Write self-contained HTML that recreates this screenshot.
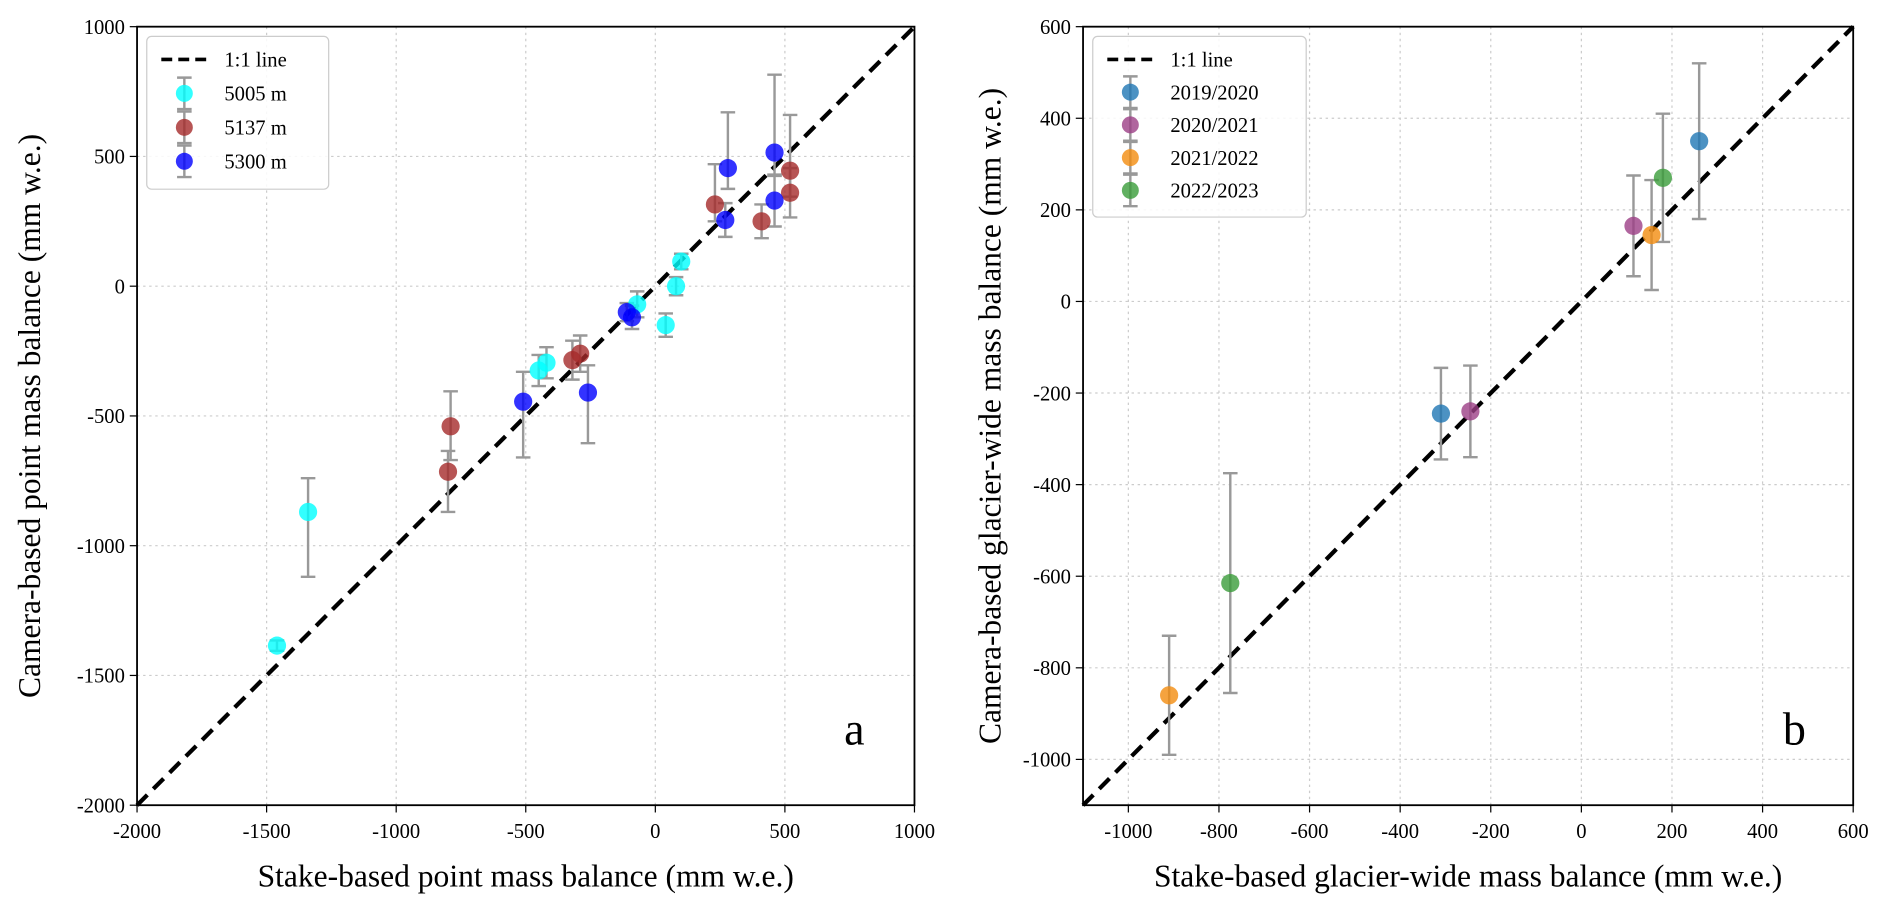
<!DOCTYPE html>
<html><head><meta charset="utf-8"><style>
body{margin:0;background:#fff}
svg{display:block;font-family:"Liberation Serif",serif}
</style></head><body>
<svg id="c" width="1892" height="901" viewBox="0 0 1560 743" preserveAspectRatio="none"></svg>
<script>
// Panel a data
const aGroups=["5005 m","5137 m","5300 m"];
const aColors=["#00ffff","#a52a2a","#0000ff"];
const aX=[[-1460,-1340,-450,-420,-70,40,80,100],[-800,-790,-320,-290,230,410,520,520],[-510,-260,-110,-90,270,280,460,460]];
const aY=[[-1385,-870,-325,-295,-70,-150,0,95],[-715,-540,-285,-260,315,250,445,360],[-445,-410,-100,-120,255,455,515,330]];
const aLo=[[20,250,60,60,50,45,35,30],[155,130,75,70,65,65,100,95],[215,195,35,45,65,80,90,100]];
const aHi=[[20,130,60,60,50,45,35,30],[80,135,75,70,155,65,215,95],[115,105,35,45,65,215,300,100]];
const aTicks=[-2000,-1500,-1000,-500,0,500,1000];
// Panel b data
const bGroups=["2019/2020","2020/2021","2021/2022","2022/2023"];
const bColors=["#1f77b4","#9c3f86","#f28c0f","#3a9c3a"];
const bX=[[-310,260],[-245,115],[-910,155],[-775,180]];
const bY=[[-245,350],[-240,165],[-860,145],[-615,270]];
const bErr=[[100,170],[100,110],[130,120],[240,140]];
const bTicksX=[-1000,-800,-600,-400,-200,0,200,400,600];
const bTicksY=[-1000,-800,-600,-400,-200,0,200,400,600];

const svg=document.getElementById('c');
const NS='http://www.w3.org/2000/svg';
function mk(t,attrs,parent){const e=document.createElementNS(NS,t);for(const k in attrs)e.setAttribute(k,attrs[k]);(parent||svg).appendChild(e);return e;}

function panel(o){
  const g=mk('g',{});
  
  
  const sx=v=>o.x0+(v-o.xmin)/(o.xmax-o.xmin)*(o.x1-o.x0);
  const sy=v=>o.y1-(v-o.ymin)/(o.ymax-o.ymin)*(o.y1-o.y0);
  o.tx.forEach(t=>{if(t>o.xmin&&t<o.xmax){const l=mk('line',{x1:sx(t),x2:sx(t),y1:o.y0,y2:o.y1,stroke:'#ccc','stroke-dasharray':'2,3','stroke-width':1},g);}});
  o.ty.forEach(t=>{if(t>o.ymin&&t<o.ymax){const l=mk('line',{y1:sy(t),y2:sy(t),x1:o.x0,x2:o.x1,stroke:'#ccc','stroke-dasharray':'2,3','stroke-width':1},g);}});
  const d=mk('line',{x1:sx(o.lmin),y1:sy(o.lmin),x2:sx(o.lmax),y2:sy(o.lmax),stroke:'#000','stroke-width':3.5,'stroke-dasharray':'12,7'},g);
  
  o.series.forEach((s,i)=>{
    s.x.forEach((xv,j)=>{
      const cx=sx(xv),yt=sy(s.y[j]+s.hi[j]),yb=sy(s.y[j]-s.lo[j]);
      const e=mk('path',{d:`M${cx},${yt}V${yb}M${cx-6},${yt}H${cx+6}M${cx-6},${yb}H${cx+6}`,stroke:'#999','stroke-width':2,fill:'none'},g);
      
    });
  });
  o.series.forEach((s,i)=>{
    s.x.forEach((xv,j)=>{
      const c=mk('circle',{cx:sx(xv),cy:sy(s.y[j]),r:7.5,fill:s.color,'fill-opacity':0.8},g);
      
    });
  });
  const f=mk('rect',{x:o.x0,y:o.y0,width:o.x1-o.x0,height:o.y1-o.y0,fill:'none',stroke:'#000','stroke-width':1.5},g);
  
  o.tx.forEach(t=>{const x=sx(t);mk('line',{x1:x,x2:x,y1:o.y1,y2:o.y1+6,stroke:'#000'},g);
    const tt=mk('text',{x:x,y:o.y1+27,'text-anchor':'middle','font-size':17},g);tt.textContent=t;
    });
  o.ty.forEach(t=>{const y=sy(t);mk('line',{x1:o.x0-6,x2:o.x0,y1:y,y2:y,stroke:'#000'},g);
    const tt=mk('text',{x:o.x0-10,y:y+6,'text-anchor':'end','font-size':17},g);tt.textContent=t;
    });
  const xl=mk('text',{x:(o.x0+o.x1)/2,y:o.y1+67,'text-anchor':'middle','font-size':26},g);xl.textContent=o.xlabel;
  
  const yx=o.x0-o.ylOff, yy=(o.y0+o.y1)/2;
  const yl=mk('text',{x:yx,y:yy,'text-anchor':'middle','font-size':26,transform:`rotate(-90 ${yx} ${yy})`},g);yl.textContent=o.ylabel;
  
  const pl=mk('text',{x:o.x1-58,y:o.y1-50,'font-size':38},g);pl.textContent=o.letter;
  
  // legend
  const n=o.series.length, lh=o.lh;
  const lg=mk('g',{},g);
  mk('rect',{x:o.x0+8,y:o.y0+8,width:o.legW,height:14+lh*(n+1),rx:4,fill:'#fff','fill-opacity':0.85,stroke:'#ccc'},lg);
  let ly=o.y0+27;
  mk('line',{x1:o.x0+20,x2:o.x0+58,y1:ly,y2:ly,stroke:'#000','stroke-width':3,'stroke-dasharray':'9,5'},lg);
  const lt=mk('text',{x:o.x0+72,y:ly+6,'font-size':17},lg);lt.textContent='1:1 line';
  o.series.forEach(s=>{ly+=lh;const cx=o.x0+39;
    const e=mk('g',{},lg);
    mk('path',{d:`M${cx},${ly-13}V${ly+13}M${cx-6},${ly-13}H${cx+6}M${cx-6},${ly+13}H${cx+6}`,stroke:'#999','stroke-width':2,fill:'none'},e);
    mk('circle',{cx:cx,cy:ly,r:7,fill:s.color,'fill-opacity':0.8},e);
    const t=mk('text',{x:o.x0+72,y:ly+6,'font-size':17},e);t.textContent=s.name;});
}
panel({name:'panel-a',x0:113,x1:754,y0:22,y1:664,xmin:-2000,xmax:1000,ymin:-2000,ymax:1000,lmin:-2000,lmax:1000,
  tx:aTicks,ty:aTicks,xlabel:'Stake-based point mass balance (mm w.e.)',ylabel:'Camera-based point mass balance (mm w.e.)',ylOff:80,letter:'a',legW:150,lh:28,
  series:aGroups.map((n,i)=>({name:n,color:aColors[i],x:aX[i],y:aY[i],lo:aLo[i],hi:aHi[i]}))});
panel({name:'panel-b',x0:893,x1:1528,y0:22,y1:664,xmin:-1100,xmax:600,ymin:-1100,ymax:600,lmin:-1100,lmax:600,
  tx:bTicksX,ty:bTicksY,xlabel:'Stake-based glacier-wide mass balance (mm w.e.)',ylabel:'Camera-based glacier-wide mass balance (mm w.e.)',ylOff:68,letter:'b',legW:176,lh:27,
  series:bGroups.map((n,i)=>({name:n,color:bColors[i],x:bX[i],y:bY[i],lo:bErr[i],hi:bErr[i]}))});
</script>
</body></html>
